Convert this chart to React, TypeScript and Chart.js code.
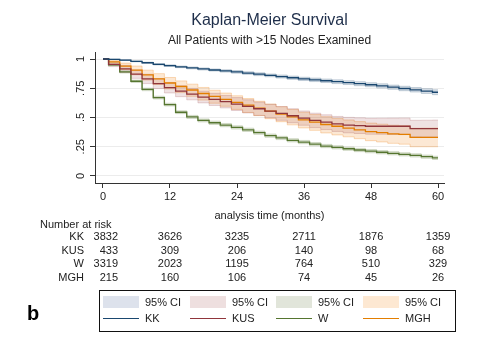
import React, { useEffect, useRef } from 'react';
import { Chart, registerables } from 'chart.js';
Chart.register(...registerables);

const months = [0, 2, 4, 6, 8, 10, 12, 14, 16, 18, 20, 22, 24, 26, 28, 30, 32, 34, 36, 38, 40, 42, 44, 46, 48, 50, 52, 54, 56, 58, 60];

const KK = [1, 0.997, 0.99, 0.98, 0.968, 0.955, 0.943, 0.933, 0.924, 0.915, 0.906, 0.898, 0.89, 0.88, 0.87, 0.86, 0.85, 0.84, 0.83, 0.822, 0.814, 0.806, 0.798, 0.789, 0.78, 0.77, 0.759, 0.748, 0.737, 0.726, 0.716];
const KK_lo = [1, 0.995, 0.987, 0.976, 0.963, 0.949, 0.936, 0.926, 0.916, 0.906, 0.897, 0.888, 0.879, 0.869, 0.858, 0.848, 0.837, 0.826, 0.816, 0.807, 0.799, 0.79, 0.782, 0.772, 0.763, 0.752, 0.741, 0.729, 0.718, 0.706, 0.695];
const KK_hi = [1, 0.999, 0.993, 0.984, 0.973, 0.961, 0.95, 0.94, 0.932, 0.924, 0.915, 0.908, 0.901, 0.891, 0.882, 0.872, 0.863, 0.854, 0.844, 0.837, 0.829, 0.822, 0.814, 0.806, 0.797, 0.788, 0.777, 0.767, 0.756, 0.746, 0.737];

const KUS = [1, 0.955, 0.915, 0.87, 0.83, 0.79, 0.755, 0.725, 0.7, 0.675, 0.655, 0.635, 0.615, 0.595, 0.575, 0.555, 0.535, 0.515, 0.495, 0.475, 0.46, 0.445, 0.435, 0.43, 0.425, 0.425, 0.425, 0.425, 0.405, 0.405, 0.405];
const KUS_lo = [1, 0.935, 0.885, 0.835, 0.79, 0.748, 0.71, 0.678, 0.651, 0.625, 0.603, 0.582, 0.56, 0.539, 0.518, 0.497, 0.476, 0.455, 0.434, 0.413, 0.397, 0.381, 0.369, 0.363, 0.357, 0.356, 0.355, 0.354, 0.334, 0.333, 0.332];
const KUS_hi = [1, 0.975, 0.945, 0.905, 0.87, 0.832, 0.8, 0.772, 0.749, 0.725, 0.707, 0.688, 0.67, 0.651, 0.632, 0.613, 0.594, 0.575, 0.556, 0.537, 0.523, 0.509, 0.501, 0.497, 0.493, 0.494, 0.495, 0.496, 0.476, 0.477, 0.478];

const W = [1, 0.95, 0.89, 0.81, 0.74, 0.67, 0.61, 0.545, 0.505, 0.475, 0.455, 0.435, 0.415, 0.395, 0.37, 0.345, 0.325, 0.305, 0.29, 0.272, 0.256, 0.245, 0.233, 0.222, 0.212, 0.203, 0.194, 0.185, 0.176, 0.165, 0.155];
const W_lo = [1, 0.943, 0.88, 0.8, 0.729, 0.658, 0.598, 0.533, 0.492, 0.462, 0.441, 0.421, 0.401, 0.381, 0.356, 0.331, 0.311, 0.291, 0.276, 0.258, 0.242, 0.231, 0.219, 0.208, 0.198, 0.189, 0.18, 0.171, 0.162, 0.151, 0.141];
const W_hi = [1, 0.957, 0.9, 0.82, 0.751, 0.682, 0.622, 0.557, 0.518, 0.488, 0.469, 0.449, 0.429, 0.409, 0.384, 0.359, 0.339, 0.319, 0.304, 0.286, 0.27, 0.259, 0.247, 0.236, 0.226, 0.217, 0.208, 0.199, 0.19, 0.179, 0.169];

const MGH = [1, 0.975, 0.94, 0.905, 0.865, 0.83, 0.795, 0.765, 0.735, 0.705, 0.68, 0.655, 0.63, 0.605, 0.58, 0.555, 0.53, 0.505, 0.48, 0.46, 0.44, 0.425, 0.41, 0.395, 0.38, 0.37, 0.36, 0.355, 0.33, 0.33, 0.33];
const MGH_lo = [1, 0.955, 0.91, 0.865, 0.82, 0.782, 0.745, 0.713, 0.681, 0.649, 0.622, 0.596, 0.569, 0.543, 0.516, 0.49, 0.464, 0.437, 0.411, 0.39, 0.368, 0.351, 0.335, 0.319, 0.302, 0.291, 0.279, 0.272, 0.25, 0.25, 0.25];
const MGH_hi = [1, 0.99, 0.965, 0.94, 0.905, 0.875, 0.842, 0.813, 0.785, 0.757, 0.733, 0.709, 0.686, 0.662, 0.639, 0.615, 0.592, 0.569, 0.545, 0.526, 0.507, 0.493, 0.479, 0.465, 0.452, 0.443, 0.434, 0.43, 0.408, 0.409, 0.41];

const groups = ['KK', 'KUS', 'W', 'MGH'];
const xTicks = [0, 12, 24, 36, 48, 60];
const yTicks = [0, 0.25, 0.5, 0.75, 1];
const yTickLabels = ['0', '.25', '.5', '.75', '1'];
const riskKK = [3832, 3626, 3235, 2711, 1876, 1359];
const riskKUS = [433, 309, 206, 140, 98, 68];
const riskW = [3319, 2023, 1195, 764, 510, 329];
const riskMGH = [215, 160, 106, 74, 45, 26];

const lineColors = ['#1a476f', '#90353b', '#55752f', '#e37e00'];
const bandFills = ['rgba(26,71,111,0.16)', 'rgba(144,53,59,0.14)', 'rgba(85,117,47,0.16)', 'rgba(240,140,40,0.2)'];
const bandEdges = ['rgba(26,71,111,0.22)', 'rgba(144,53,59,0.2)', 'rgba(85,117,47,0.22)', 'rgba(240,140,40,0.3)'];
const swatchFills = ['#dde2ec', '#eedfdf', '#e1e5da', '#fde8d2'];

const FONT = '"Liberation Sans", Arial, sans-serif';

const pts = (arr: number[]) => months.map((m, i) => ({ x: m, y: arr[i] }));

export default function App() {
  const ref = useRef<HTMLCanvasElement | null>(null);
  useEffect(() => {
    if (!ref.current) return;
    const series = [KK, KUS, W, MGH];
    const los = [KK_lo, KUS_lo, W_lo, MGH_lo];
    const his = [KK_hi, KUS_hi, W_hi, MGH_hi];
    const datasets: any[] = [];
    series.forEach((s, i) => {
      datasets.push({
        label: groups[i],
        data: pts(s),
        borderColor: lineColors[i],
        borderWidth: 1.3,
        pointRadius: 0,
        stepped: 'middle',
        fill: false,
      });
    });
    for (let i = 0; i < 4; i++) {
      datasets.push({
        label: groups[i] + ' lo',
        data: pts(los[i]),
        borderColor: bandEdges[i],
        borderWidth: 1,
        pointRadius: 0,
        stepped: 'middle',
        fill: false,
      });
      datasets.push({
        label: groups[i] + ' hi',
        data: pts(his[i]),
        borderColor: bandEdges[i],
        borderWidth: 1,
        pointRadius: 0,
        stepped: 'middle',
        fill: '-1',
        backgroundColor: bandFills[i],
      });
    }

    const overlay = {
      id: 'overlay',
      afterDraw(chart: any) {
        const ctx = chart.ctx;
        const xs = chart.scales.x;
        const ys = chart.scales.y;
        const cx = (chart.chartArea.left + chart.chartArea.right) / 2;
        ctx.save();
        ctx.textAlign = 'center';
        ctx.textBaseline = 'middle';
        ctx.fillStyle = '#1e2e4a';
        ctx.font = `16px ${FONT}`;
        ctx.fillText('Kaplan-Meier Survival', cx, 21);
        ctx.fillStyle = '#222';
        ctx.font = `12px ${FONT}`;
        ctx.fillText('All Patients with >15 Nodes Examined', cx, 41);
        ctx.font = `11px ${FONT}`;
        ctx.fillStyle = '#222';
        yTicks.forEach((v, i) => {
          const y = ys.getPixelForValue(v);
          ctx.save();
          ctx.translate(81, y);
          ctx.rotate(-Math.PI / 2);
          ctx.fillText(yTickLabels[i], 0, 0);
          ctx.restore();
        });
        ctx.font = `11px ${FONT}`;
        ctx.textAlign = 'left';
        ctx.fillText('Number at risk', 40, 225);
        const rows = [riskKK, riskKUS, riskW, riskMGH];
        const rowY = [237, 250.5, 264, 277.5];
        rows.forEach((r, ri) => {
          ctx.textAlign = 'right';
          ctx.fillText(groups[ri], 84, rowY[ri]);
          r.forEach((n, ci) => {
            if (ci === 0) {
              ctx.textAlign = 'right';
              ctx.fillText(String(n), 118, rowY[ri]);
            } else {
              ctx.textAlign = 'center';
              ctx.fillText(String(n), xs.getPixelForValue(xTicks[ci]), rowY[ri]);
            }
          });
        });
        ctx.strokeStyle = '#111';
        ctx.lineWidth = 1;
        ctx.strokeRect(99.5, 290.5, 356, 41);
        const sx = [103, 190, 276, 363];
        const sw = 36;
        ctx.textAlign = 'left';
        for (let i = 0; i < 4; i++) {
          ctx.fillStyle = swatchFills[i];
          ctx.fillRect(sx[i], 296, sw, 12);
          ctx.fillStyle = '#222';
          ctx.fillText('95% CI', sx[i] + sw + 6, 302.5);
          ctx.strokeStyle = lineColors[i];
          ctx.lineWidth = 1.2;
          ctx.beginPath();
          ctx.moveTo(sx[i], 318.5);
          ctx.lineTo(sx[i] + sw, 318.5);
          ctx.stroke();
          ctx.fillText(groups[i], sx[i] + sw + 6, 318.5);
        }
        ctx.fillStyle = '#000';
        ctx.font = `bold 20px ${FONT}`;
        ctx.textAlign = 'left';
        ctx.fillText('b', 27, 314);
        ctx.restore();
      },
    };

    const chart = new Chart(ref.current, {
      type: 'line',
      data: { datasets },
      plugins: [overlay],
      options: {
        animation: false,
        responsive: false,
        maintainAspectRatio: false,
        layout: { padding: { left: 0, top: 52, right: 56, bottom: 130 } },
        plugins: {
          legend: { display: false },
          tooltip: { enabled: false },
          title: { display: false },
        },
        scales: {
          x: {
            type: 'linear',
            min: -1.43,
            max: 61.07,
            afterBuildTicks: (s: any) => {
              s.ticks = xTicks.map((v) => ({ value: v }));
            },
            afterFit: (s: any) => {
              s.height = 40;
            },
            grid: { drawOnChartArea: false, drawTicks: true, tickLength: 5, tickColor: '#333' },
            border: { display: true, color: '#333', width: 1 },
            ticks: {
              color: '#222',
              font: { family: FONT, size: 11 },
              padding: 2,
              maxRotation: 0,
              callback: (v: any) => String(v),
            },
            title: {
              display: true,
              text: 'analysis time (months)',
              color: '#222',
              font: { family: FONT, size: 11 },
              padding: { top: 0, bottom: 0 },
            },
          },
          y: {
            type: 'linear',
            min: -0.06,
            max: 1.06,
            afterBuildTicks: (s: any) => {
              s.ticks = yTicks.map((v) => ({ value: v }));
            },
            afterFit: (s: any) => {
              s.width = 95;
            },
            grid: { color: '#ececec', lineWidth: 1, drawTicks: true, tickLength: 5, tickColor: '#333' },
            border: { display: true, color: '#333', width: 1 },
            ticks: { display: false },
          },
        },
      },
    });
    return () => chart.destroy();
  }, []);
  return (
    <div style={{ position: 'fixed', left: 0, top: 0, width: 500, height: 353, background: '#fff' }}>
      <canvas ref={ref} width={500} height={353} style={{ width: 500, height: 353, display: 'block' }} />
    </div>
  );
}
